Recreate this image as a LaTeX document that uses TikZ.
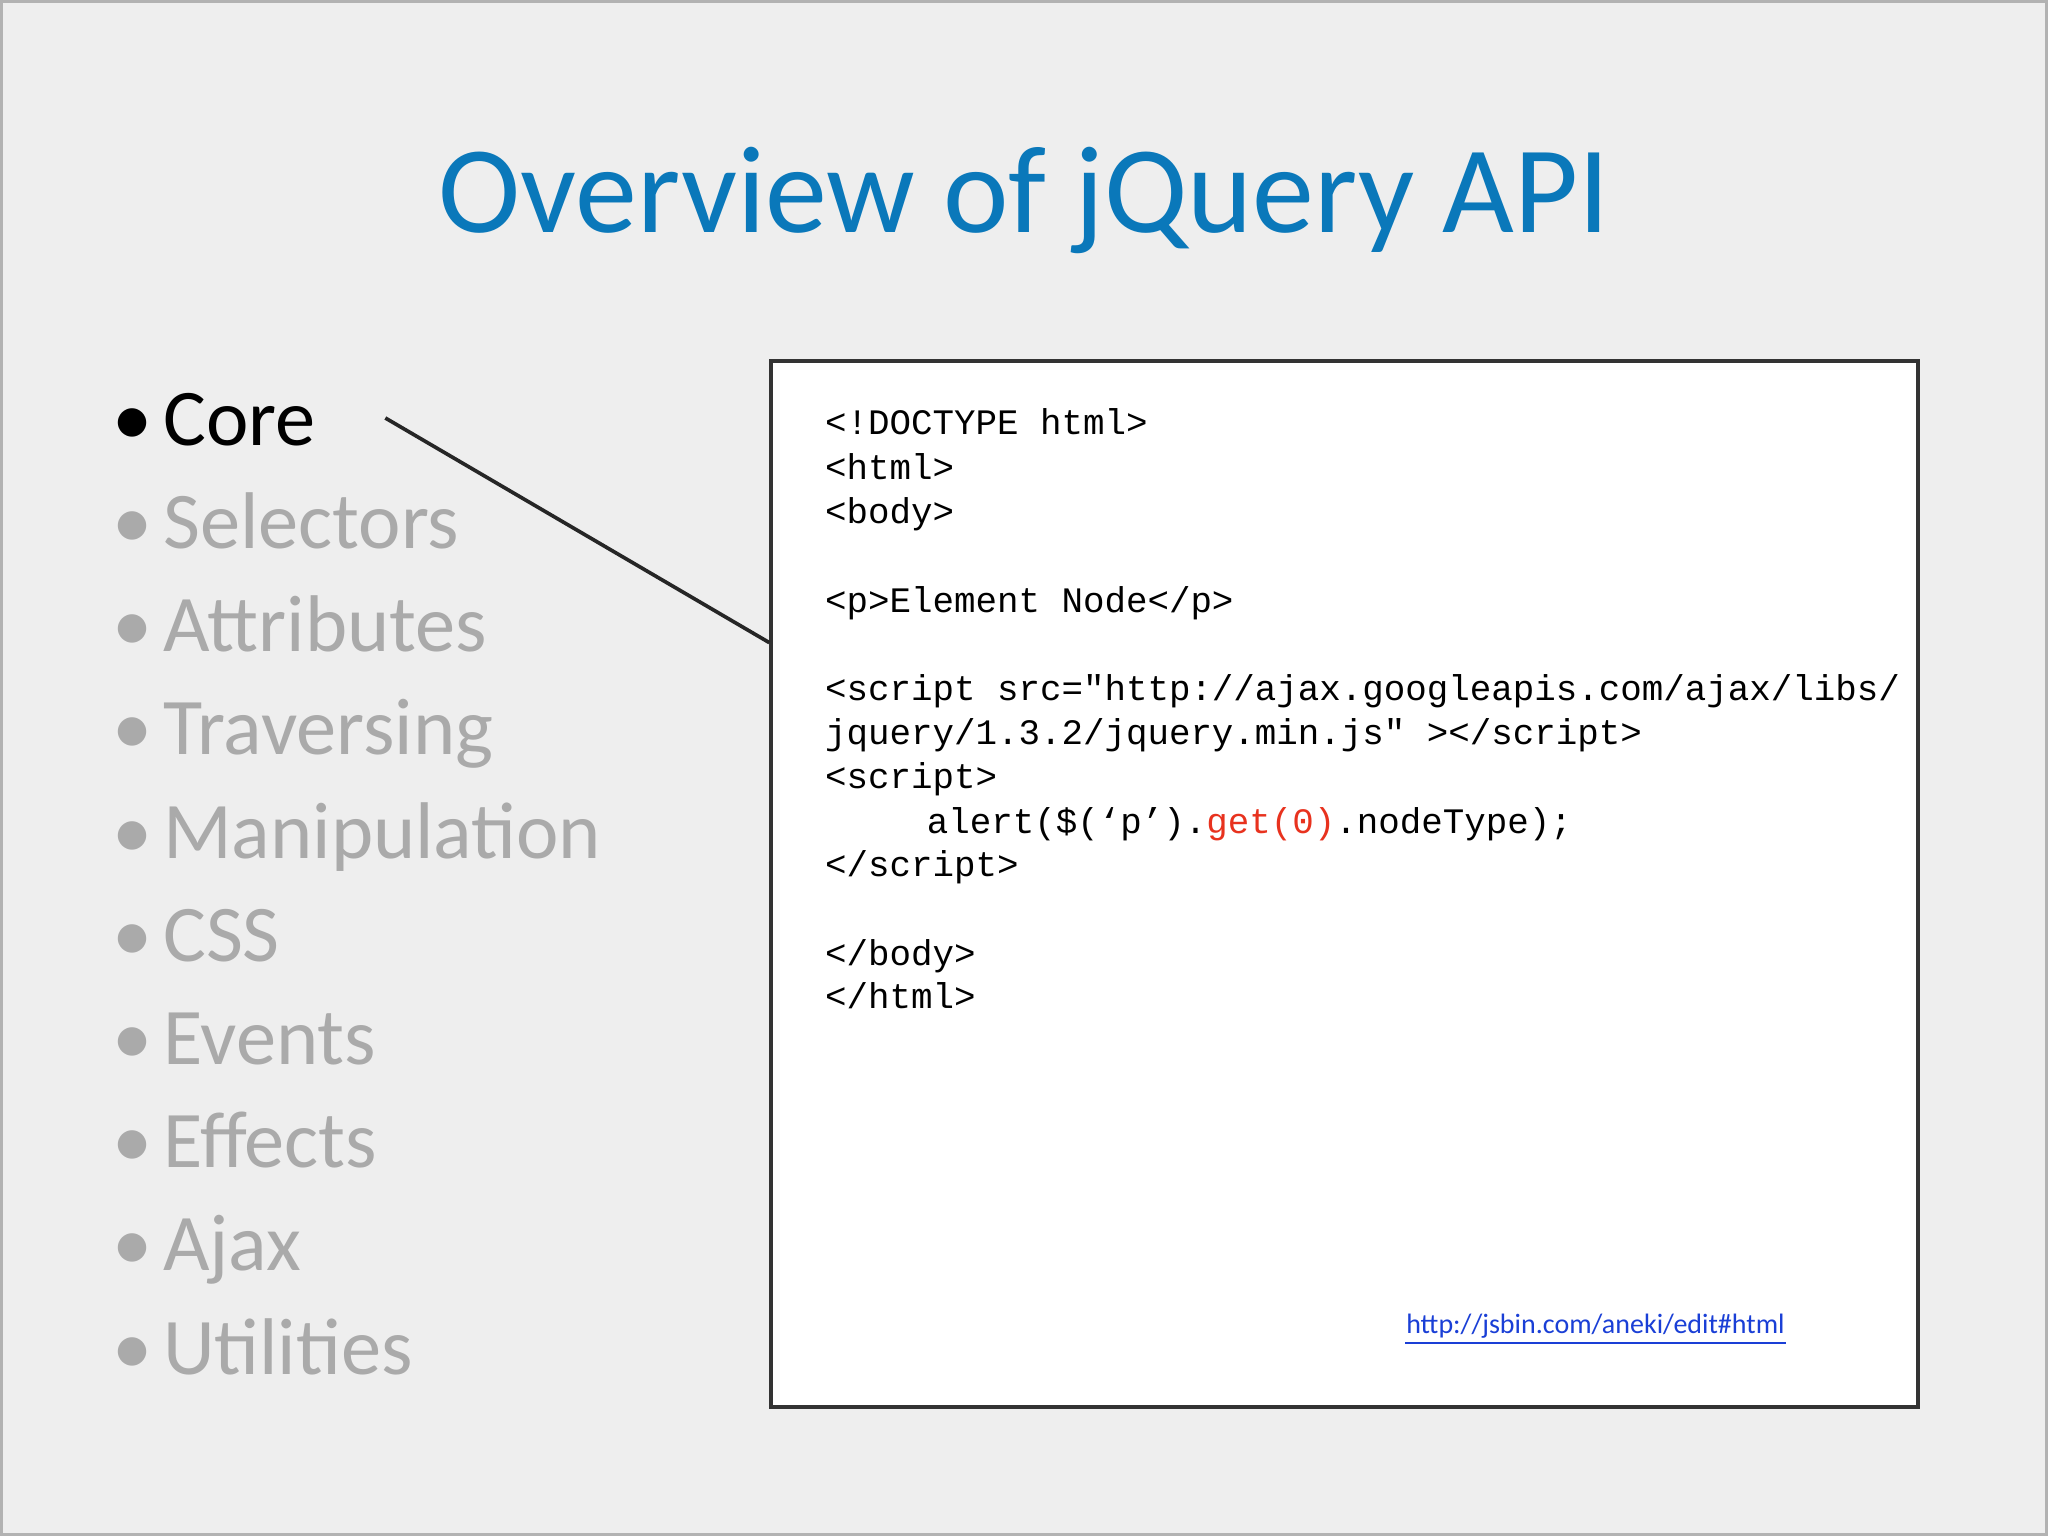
\documentclass[tikz,border=0pt]{standalone}
\usepackage{fontspec}
\setmainfont{Carlito}
\newfontfamily\codefont{Liberation Mono}
\definecolor{bg}{HTML}{EEEEEE}
\definecolor{titleblue}{HTML}{0A78BA}
\definecolor{dimgray}{HTML}{AAAAAA}
\definecolor{codered}{HTML}{E8321E}
\definecolor{linkblue}{HTML}{1A3FD6}
\begin{document}
\begin{tikzpicture}[x=0.01cm,y=-0.01cm,
  bullet/.style={anchor=base west,font=\fontsize{17.5pt}{20pt}\selectfont,color=dimgray,inner sep=0},
  codeline/.style={anchor=base west,font=\codefont\fontsize{7.8pt}{9pt}\selectfont,inner sep=0}]
\fill[bg] (0,0) rectangle (1568,1176);
\draw[gray!60,line width=0.6pt] (1,1) rectangle (1567,1175);
\useasboundingbox (0,0) rectangle (1568,1176);
\node[anchor=base,color=titleblue,font=\fontsize{27pt}{32pt}\selectfont,inner sep=0] (title) at (784,178) {Overview of jQuery API};
\node[bullet,color=black] (b1) at (85,341) {•\hspace{0.14em}Core};
\node[bullet] (b2) at (85,420) {•\hspace{0.14em}Selectors};
\node[bullet] (b3) at (85,499) {•\hspace{0.14em}Attributes};
\node[bullet] (b4) at (85,578) {•\hspace{0.14em}Traversing};
\node[bullet] (b5) at (85,657) {•\hspace{0.14em}Manipulation};
\node[bullet] (b6) at (85,736) {•\hspace{0.14em}CSS};
\node[bullet] (b7) at (85,815) {•\hspace{0.14em}Events};
\node[bullet] (b8) at (85,894) {•\hspace{0.14em}Effects};
\node[bullet] (b9) at (85,973) {•\hspace{0.14em}Ajax};
\node[bullet] (b10) at (85,1052) {•\hspace{0.14em}Utilities};
\node[draw=black!80,line width=0.8pt,fill=white,minimum width=878*0.01cm,minimum height=801*0.01cm,anchor=north west,inner sep=0] (box) at (589,275) {};
\coordinate (ls) at (295,320);
\coordinate (le) at (589,492);
\draw[black!85,line width=0.8pt] (ls) -- (le);
\node[codeline] (c1) at (631,333) {<!DOCTYPE html>};
\node[codeline] (c2) at (631,367) {<html>};
\node[codeline] (c3) at (631,401) {<body>};
\node[codeline] (c4) at (631,469) {<p>Element Node</p>};
\node[codeline] (c5) at (631,536) {<script src="http://ajax.googleapis.com/ajax/libs/};
\node[codeline] (c6) at (631,570) {jquery/1.3.2/jquery.min.js" ></script>};
\node[codeline] (c7) at (631,604) {<script>};
\node[codeline] (c8) at (709,638) {alert(\$(‘p’).\textcolor{codered}{get(0)}.nodeType);};
\node[codeline] (c9) at (631,671) {</script>};
\node[codeline] (c10) at (631,739) {</body>};
\node[codeline] (c11) at (631,772) {</html>};
\node[anchor=base west,inner sep=0,color=linkblue,font=\fontsize{6.1pt}{8pt}\selectfont] (link) at (1076,1021) {http://jsbin.com/aneki/edit\#html};
\draw[linkblue,line width=0.5pt] ([yshift=-0.03cm]link.south west) -- ([yshift=-0.03cm]link.south east);
\end{tikzpicture}
\end{document}
